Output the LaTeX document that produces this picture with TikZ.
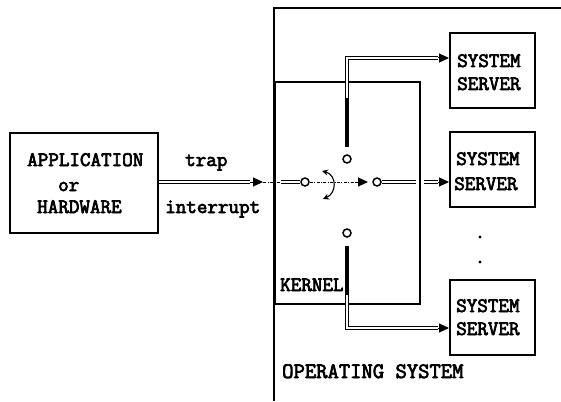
\documentclass[tikz,border=0pt]{standalone}
\usepackage{fontspec}
\newfontfamily\tw{Latin Modern Mono}
\newcommand\heavytxt[1]{\special{pdf:literal direct 2 Tr 0.7 w}#1\special{pdf:literal direct 0 Tr}}
\usetikzlibrary{arrows.meta}
\begin{document}
\begin{tikzpicture}[x=1pt,y=-1pt,
  lbl/.style={font=\tw\fontsize{20.5}{24}\selectfont, inner sep=0pt, anchor=base west},
  box/.style={draw, line width=1.2pt, inner sep=0pt},
  dbl/.style={double, double distance=2pt, line width=1.2pt},
  tipr/.style={-{Triangle[length=10pt,width=9pt]}, line width=1pt},
  dd/.style={dash pattern=on 3pt off 1.5pt on 0.8pt off 1.5pt, line width=0.9pt},
  contact/.style={circle, draw, line width=1.5pt, minimum size=8pt, inner sep=0pt, fill=white},
  thickbar/.style={line width=4.5pt}]
\useasboundingbox (0,0) rectangle (561,401);

% boxes
\node[box, minimum width=148pt, minimum height=100pt] (app) at (84,183) {};
\node[box, minimum width=145pt, minimum height=222pt] (kernel) at (347.5,193) {};
\node[box, minimum width=85pt, minimum height=75pt] (s1) at (492.5,70.5) {};
\node[box, minimum width=85pt, minimum height=75pt] (s2) at (492.5,169.5) {};
\node[box, minimum width=85pt, minimum height=75pt] (s3) at (492.5,317.5) {};
% operating system frame
\coordinate (osTR) at (561,8);
\coordinate (osTL) at (274,8);
\coordinate (osBL) at (274,401);
\draw[line width=1.5pt] (osTR) -- (osTL) -- (osBL);

% texts
\node[lbl] (tA1) at (27,166) {\heavytxt{APPLICATION}};
\node[lbl] (tA2) at (58,191) {\heavytxt{or}};
\node[lbl] (tA3) at (37,213) {\heavytxt{HARDWARE}};
\node[lbl] (tTrap) at (185,166) {\heavytxt{trap}};
\node[lbl] (tInt) at (165,213) {\heavytxt{interrupt}};
\node[lbl] (tK) at (280,291) {\heavytxt{KERNEL}};
\node[lbl, font=\tw\fontsize{22}{25}\selectfont] (tOS) at (282,378) {\heavytxt{OPERATING SYSTEM}};
\node[lbl] (s1a) at (457,67) {\heavytxt{SYSTEM}};
\node[lbl] (s1b) at (457,90) {\heavytxt{SERVER}};
\node[lbl] (s2a) at (456,165) {\heavytxt{SYSTEM}};
\node[lbl] (s2b) at (454,190) {\heavytxt{SERVER}};
\node[lbl] (s3a) at (456,312) {\heavytxt{SYSTEM}};
\node[lbl] (s3b) at (456,335) {\heavytxt{SERVER}};

% contacts
\node[contact] (cIn) at (305,182) {};
\node[contact] (cOut) at (377,182) {};
\node[contact] (cUp) at (347,159) {};
\node[contact] (cDn) at (347,233) {};

% input: application -> kernel
\coordinate (a0) at (159,182);
\coordinate (a1) at (250,182);
\coordinate (a2) at (263,182);
\coordinate (b0) at (281,182);
\coordinate (b1) at (355,182);
\coordinate (b2) at (368,182);
\draw[dbl] (a0) -- (a1);
\draw[tipr] (a1) -- (a2);
\draw[dd] (a2) -- (b0);
\draw[dbl] (b0) -- (cIn.west);
\draw[dd] (cIn.east) -- (b1);
\draw[tipr] (b1) -- (b2);

% output to middle server
\coordinate (m0) at (416,182);
\coordinate (m1) at (424,182);
\coordinate (m2) at (438,182);
\coordinate (m3) at (449,182);
\draw[dbl] (cOut.east) -- (m0);
\draw[dbl] (m1) -- (m2);
\draw[tipr] (m2) -- (m3);

% upper branch
\coordinate (u0) at (347,147);
\coordinate (u1) at (347,98);
\coordinate (uc) at (347,58);
\coordinate (u2) at (438,58);
\coordinate (u3) at (449,58);
\draw[dbl] (u0) -- (uc) -- (u2);
\draw[tipr] (u2) -- (u3);
\draw[thickbar] (u1) -- (u0);

% lower branch
\coordinate (d0) at (347,246);
\coordinate (d1) at (347,295);
\coordinate (dc) at (347,328);
\coordinate (d2) at (438,328);
\coordinate (d3) at (449,328);
\draw[dbl] (d0) -- (dc) -- (d2);
\draw[tipr] (d2) -- (d3);
\draw[thickbar] (d0) -- (d1);

% switch rotation arrow
\coordinate (r0) at (322,171);
\coordinate (r1) at (323,199);
\draw[{Stealth[length=6pt,width=6pt]}-{Stealth[length=6pt,width=6pt]}, line width=1.1pt]
  (r0) .. controls (337,175) and (337,193) .. (r1);

% ellipsis dots
\fill (480,237) circle (1.6);
\fill (480,262) circle (1.6);
\end{tikzpicture}
\end{document}
